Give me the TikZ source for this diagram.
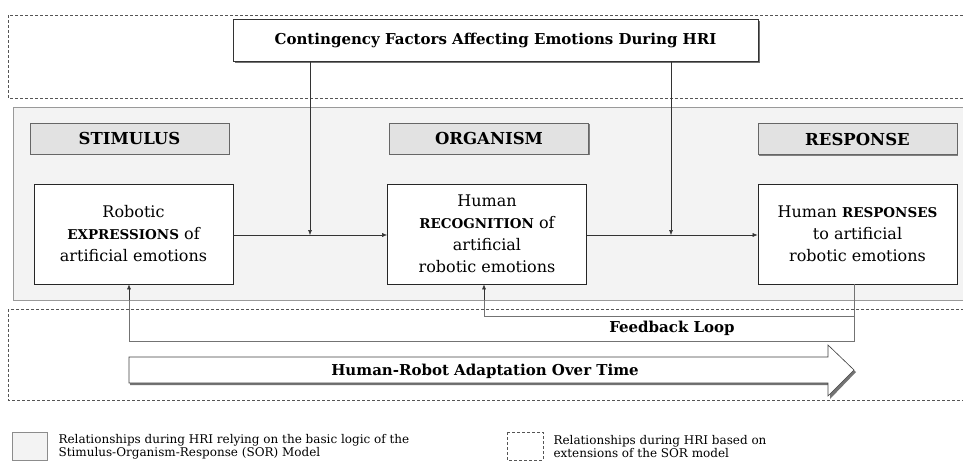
\documentclass[tikz,border=0pt]{standalone}
\usepackage{fontspec}
\setmainfont{DejaVu Serif}
\usetikzlibrary{arrows.meta}
\newcommand\mysc[1]{{\fontsize{13.5}{14}\selectfont\bfseries #1}}
\definecolor{regionfill}{HTML}{F3F3F3}
\definecolor{headfill}{HTML}{E2E2E2}
\definecolor{dashcol}{HTML}{555555}
\tikzset{
  dashregion/.style={draw=dashcol, line width=0.7pt, dash pattern=on 3pt off 2pt},
  basebox/.style={draw=black!85, fill=white, line width=0.8pt, minimum width=199pt, minimum height=100pt, inner sep=0pt, align=center, font=\fontsize{16}{22}\selectfont},
  headbox/.style={draw=black!60, fill=headfill, line width=0.8pt, minimum width=199pt, minimum height=31pt, inner sep=0pt, font=\fontsize{16.5}{18}\selectfont\bfseries},
  conn/.style={draw=black!80, line width=0.5pt, -{Latex[length=5pt,width=4pt]}},
  fb/.style={draw=black!55, line width=0.5pt},
  boldlabel/.style={font=\fontsize{15}{17}\selectfont\bfseries},
  legendtext/.style={anchor=west, align=left, font=\fontsize{12}{13}\selectfont},
}
\begin{document}
\begin{tikzpicture}[x=1pt,y=-1pt]
\useasboundingbox (0,0) rectangle (963,463);
\clip (0,0) rectangle (963,463);
% regions
\draw[dashregion] (8,15) rectangle (975,98);
\draw[draw=black!40, fill=regionfill, line width=0.8pt] (13,107) rectangle (975,300);
\draw[dashregion] (8,309) rectangle (975,400);
% contingency
\fill[black!55] (235,21) rectangle (760,63);
\node[draw=black!80, fill=white, line width=0.8pt, minimum width=525pt, minimum height=42pt, inner sep=0pt, boldlabel] (cf) at (495.5,40) {Contingency Factors Affecting Emotions During HRI};
% headers
\fill[black!50] (31,124) rectangle (230,155);
\fill[black!50] (390,124) rectangle (590,155);
\fill[black!50] (759,124) rectangle (958,156);
\node[headbox] (hs) at (129.5,138.5) {STIMULUS};
\node[headbox] (ho) at (489,138.5) {ORGANISM};
\node[headbox] (hr) at (857.5,139) {RESPONSE};
% boxes
\node[basebox] (s) at (133.5,234) {Robotic\\\mysc{EXPRESSIONS} of\\artificial emotions};
\node[basebox] (o) at (487,234) {Human\\\mysc{RECOGNITION} of\\artificial\\robotic emotions};
\node[basebox] (r) at (857.5,234) {Human \mysc{RESPONSES}\\to artificial\\robotic emotions};
% main arrows
\coordinate (j1) at (310,235);
\coordinate (j2) at (671,235);
\draw[conn] (s.east |- j1) -- (o.west |- j1);
\draw[conn] (o.east |- j2) -- (r.west |- j2);
\draw[conn] (cf.south -| j1) -- (j1);
\draw[conn] (cf.south -| j2) -- (j2);
% feedback loop
\coordinate (fbr) at (854,341);
\coordinate (fbi) at (854,316);
\draw[fb] (r.south -| fbr) -- (fbr) -- (129,341);
\draw[fb] (129,341) -- (129,300);
\draw[conn] (129,300) -- (s.south -| 129,0);
\draw[fb] (fbi) -- (484,316) -- (484,300);
\draw[conn] (484,300) -- (o.south -| 484,0);
\node[boldlabel] (fbl) at (672,328) {Feedback Loop};
% adaptation arrow
\fill[black!55] (130,359) -- (830,359) -- (830,347) -- (856,372) -- (830,399) -- (830,385) -- (130,385) -- cycle;
\draw[draw=black!75, fill=white, line width=0.6pt] (129,357) -- (828,357) -- (828,345) -- (854,370) -- (828,396) -- (828,383) -- (129,383) -- cycle;
\node[boldlabel] (ad) at (485,371) {Human-Robot Adaptation Over Time};
% legend
\draw[draw=black!45, fill=regionfill, line width=0.6pt] (12,432) rectangle (47,460);
\node[legendtext] (l1) at (55,447) {Relationships during HRI relying on the basic logic of the\\Stimulus-Organism-Response (SOR) Model};
\draw[dashregion, line width=0.6pt] (507,432) rectangle (543,460);
\node[legendtext] (l2) at (550,447) {Relationships during HRI based on\\extensions of the SOR model};
\end{tikzpicture}
\end{document}
